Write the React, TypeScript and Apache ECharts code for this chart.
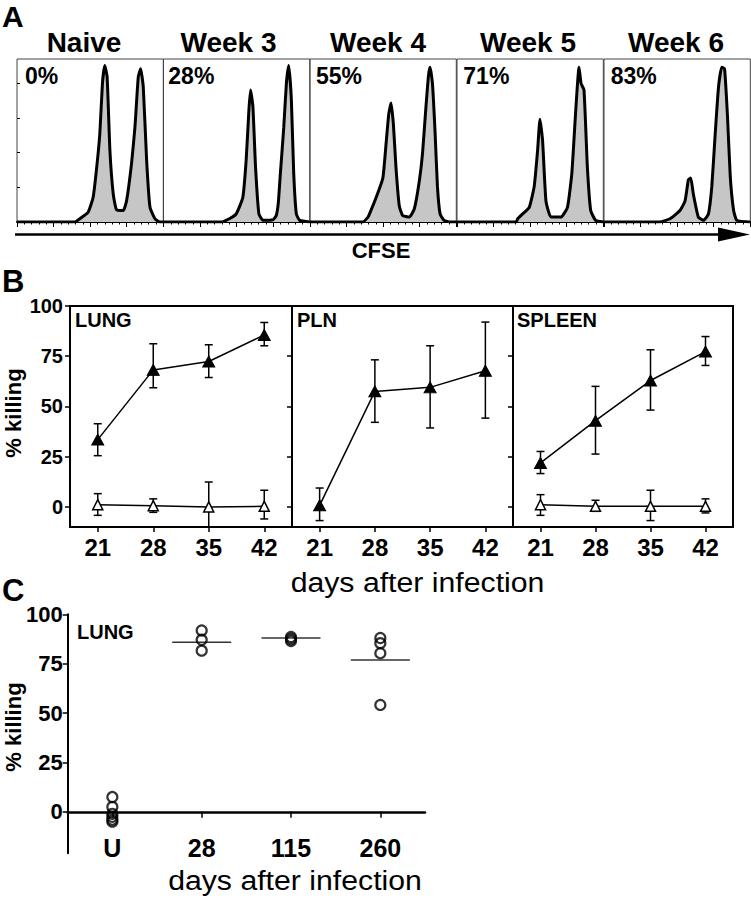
import React, { useEffect, useRef } from "react";
import * as echarts from "echarts";

const FONT = '"Liberation Sans", Arial, Helvetica, sans-serif';

// ---------- Panel A: CFSE histograms (x: CFSE position %, y: relative count %) ----------
const histTitles = ["Naive", "Week 3", "Week 4", "Week 5", "Week 6"];
const histPercents = ["0%", "28%", "55%", "71%", "83%"];
const naiveHist = [[0, 0], [39.5, 0], [42.9, 2], [48.6, 6], [52, 15], [54.3, 32], [56.6, 54], [58.4, 85], [60, 96], [61.6, 89], [63.5, 44], [65.8, 17], [68, 7.6], [72.6, 7], [74.9, 13], [78.3, 36], [80.6, 58], [82.9, 89], [84.5, 94], [86.3, 83], [88.6, 38], [90.9, 9], [94.3, 2], [97.7, 0], [100, 0]];
const week3Hist = [[0, 0], [39.4, 0], [45, 2], [49.7, 5], [54.2, 15], [56.5, 38], [58.4, 69], [59.5, 81], [61.1, 71], [62.9, 34], [65.2, 5], [68, 1], [75, 1.5], [77.1, 4], [78.5, 12], [79.9, 30], [82.2, 58], [84, 85], [85.6, 96], [87.4, 75], [89, 30], [90.8, 5], [93.1, 1], [100, 0]];
const week4Hist = [[0, 0], [36.2, 0], [39.6, 3], [40.7, 5], [45.2, 15], [49.8, 27], [52, 48], [53.8, 66], [55.4, 73], [57, 60], [58.8, 33], [61, 10], [63.3, 4], [67.9, 3], [71.3, 8], [74.7, 25], [76.9, 42], [79.2, 70], [81, 90], [82.1, 95], [83.7, 85], [85.5, 55], [87.1, 22], [88.9, 5], [91.6, 1], [96, 0], [100, 0]];
const week5Hist = [[0, 0], [40.4, 0], [41.5, 2], [44.9, 5], [49.4, 9], [52.8, 22], [55.1, 44], [56.7, 63], [58.5, 50], [60.8, 13], [64.2, 3], [71, 3], [75.5, 9], [78.5, 30], [81.2, 69], [83.4, 95], [84.8, 85], [86.8, 81], [89.1, 34], [91.4, 7], [94.8, 1], [100, 0]];
const week6Hist = [[0, 0], [38.2, 0], [45.1, 2], [51.9, 7], [55.4, 13], [57.7, 26], [59.3, 27], [61.1, 17], [64.5, 3], [68, 1], [71.4, 5], [73.7, 22], [76, 54], [78.3, 83], [80.5, 95], [82.4, 94], [84.4, 65], [86.3, 28], [88.6, 7], [90.8, 1], [100, 0]];
const histograms = [naiveHist, week3Hist, week4Hist, week5Hist, week6Hist];

// ---------- Panel B: % killing over time ----------
const days = [21, 28, 35, 42];
const bTicks = [0, 25, 50, 75, 100];
const bPanels = ["LUNG", "PLN", "SPLEEN"];
const lungImmune = [33.5, 68.2, 72.4, 85.6];
const lungImmuneHi = [41.4, 81.2, 80.7, 91.8];
const lungImmuneLo = [25.5, 59.3, 64.4, 80.2];
const lungNaive = [1.1, 0.6, 0, 0.3];
const lungNaiveHi = [6.6, 4, 12.4, 8.3];
const lungNaiveLo = [-4.2, -2.7, -12, -6];
const plnImmune = [0.8, 57.5, 59.5, 67.8];
const plnImmuneHi = [9.4, 73.2, 80.2, 92];
const plnImmuneLo = [-6.8, 42.1, 39.3, 44.2];
const spleenImmune = [21.9, 42.9, 62.9, 77.3];
const spleenImmuneHi = [27.6, 60, 78.2, 84.8];
const spleenImmuneLo = [16.6, 26.3, 48.2, 70.4];
const spleenNaive = [1.1, 0.3, 0.3, 0.3];
const spleenNaiveHi = [6.1, 3.3, 8.3, 4];
const spleenNaiveLo = [-4.2, -2.2, -6.8, -3];

// ---------- Panel C: long-term lung killing ----------
const cCategories = ["U", "28", "115", "260"];
const uValues = [7.5, 2.5, -1, -2.5, -4, -5];
const d28Values = [91.8, 87.1, 81.6];
const d115Values = [88.5, 87.5, 86.5];
const d260Values = [88, 85.4, 80.3, 54.1];
const cMeans = [85.9, 88, 76.9];

function txt(text: string, x: number, y: number, size: number, opts: any = {}) {
  return {
    type: "text",
    x,
    y,
    rotation: opts.rotation || 0,
    scaleX: opts.scaleX || 1,
    style: {
      text,
      fontSize: size,
      fontWeight: opts.weight || "bold",
      fontFamily: FONT,
      fill: "#000",
      align: opts.align || "left",
      verticalAlign: "middle",
    },
  };
}

function errorBars(idx: number, lo: number[], hi: number[]) {
  return {
    type: "custom",
    xAxisIndex: idx,
    yAxisIndex: idx,
    clip: true,
    z: 2,
    encode: { x: 0, y: [1, 2] },
    data: days.map((d, i) => [d, lo[i], hi[i]]),
    renderItem: (params: any, api: any) => {
      const x = api.value(0);
      const pHi = api.coord([x, api.value(2)]);
      const pLo = api.coord([x, api.value(1)]);
      const w = 4;
      const st = { stroke: "#000", lineWidth: 1.5 };
      return {
        type: "group",
        children: [
          { type: "line", shape: { x1: pHi[0], y1: pHi[1], x2: pLo[0], y2: pLo[1] }, style: st },
          { type: "line", shape: { x1: pHi[0] - w, y1: pHi[1], x2: pHi[0] + w, y2: pHi[1] }, style: st },
          { type: "line", shape: { x1: pLo[0] - w, y1: pLo[1], x2: pLo[0] + w, y2: pLo[1] }, style: st },
        ],
      };
    },
  };
}

function trendLine(idx: number, vals: number[], filled: boolean) {
  return {
    type: "line",
    xAxisIndex: idx,
    yAxisIndex: idx,
    z: 3,
    data: days.map((d, i) => [d, vals[i]]),
    symbol: "triangle",
    symbolSize: filled ? [12, 11] : [10, 10],
    lineStyle: { color: "#000", width: 1.5 },
    itemStyle: filled
      ? { color: "#000", borderColor: "#000", borderWidth: 1 }
      : { color: "#fff", borderColor: "#000", borderWidth: 1.5 },
  };
}

export default function App() {
  const ref = useRef<HTMLDivElement>(null);
  useEffect(() => {
    const chart = echarts.init(ref.current!, null, { renderer: "svg" });

    const aLefts = [17, 163.5, 310, 457, 604];
    const aWidth = 146.3;
    const bLefts = [70, 292, 513];
    const bWidths = [222, 221, 220];

    const grids: any[] = [];
    const xAxes: any[] = [];
    const yAxes: any[] = [];
    const series: any[] = [];

    // Panel A
    aLefts.forEach((l, i) => {
      grids.push({ left: l, top: 59, width: aWidth, height: 163, show: true, borderColor: "#444", borderWidth: 1 });
      xAxes.push({
        gridIndex: i, type: "value", min: 0, max: 100, interval: 25,
        axisLine: { show: true, onZero: false, lineStyle: { color: "#000", width: 2 } },
        axisTick: { show: true, length: 5, lineStyle: { color: "#000", width: 1 } },
        minorTick: { show: true, splitNumber: 5, length: 2.5, lineStyle: { color: "#000", width: 1 } },
        axisLabel: { show: false }, splitLine: { show: false },
      });
      yAxes.push({
        gridIndex: i, type: "value", min: 0, max: 100,
        axisLine: { show: false },
        axisTick: { show: i === 0, inside: true, length: 3, customValues: [0, 21.3, 42.6, 63.9, 85.2], lineStyle: { color: "#000" } },
        axisLabel: { show: false }, splitLine: { show: false },
      });
      series.push({
        type: "line", xAxisIndex: i, yAxisIndex: i, data: histograms[i], symbol: "none", smooth: 0.15,
        lineStyle: { color: "#000", width: 3 }, areaStyle: { color: "#c6c6c6", opacity: 1 },
      });
    });

    // Panel B
    bLefts.forEach((l, k) => {
      const gi = 5 + k;
      grids.push({ left: l, top: 306, width: bWidths[k], height: 221, show: true, borderColor: "#000", borderWidth: 2 });
      xAxes.push({
        gridIndex: gi, type: "value", min: 17.5, max: 45.5,
        axisLine: { show: true, onZero: false, lineStyle: { color: "#000", width: 2 } },
        axisTick: { show: true, customValues: days, length: 5, lineStyle: { color: "#000", width: 1.5 } },
        axisLabel: { customValues: days, fontSize: 24, fontWeight: "bold", fontFamily: FONT, color: "#000", margin: 8 },
        splitLine: { show: false },
      });
      yAxes.push({
        gridIndex: gi, type: "value", min: -10, max: 100,
        axisLine: { show: true, onZero: false, lineStyle: { color: "#000", width: 2 } },
        axisTick: { show: true, customValues: bTicks, length: 5, lineStyle: { color: "#000", width: 1.5 } },
        axisLabel: { show: k === 0, customValues: bTicks, fontSize: 20, fontWeight: "bold", fontFamily: FONT, color: "#000", margin: 7 },
        splitLine: { show: false },
      });
    });
    series.push(errorBars(5, lungImmuneLo, lungImmuneHi), trendLine(5, lungImmune, true));
    series.push(errorBars(5, lungNaiveLo, lungNaiveHi), trendLine(5, lungNaive, false));
    series.push(errorBars(6, plnImmuneLo, plnImmuneHi), trendLine(6, plnImmune, true));
    series.push(errorBars(7, spleenImmuneLo, spleenImmuneHi), trendLine(7, spleenImmune, true));
    series.push(errorBars(7, spleenNaiveLo, spleenNaiveHi), trendLine(7, spleenNaive, false));

    // Panel C
    grids.push({ left: 67.7, top: 614.3, width: 357.3, height: 239, show: false });
    xAxes.push({
      gridIndex: 8, type: "category", data: cCategories, boundaryGap: true,
      axisLine: { show: true, onZero: true, lineStyle: { color: "#000", width: 2.5 } },
      axisTick: { show: true, alignWithLabel: true, length: 6, lineStyle: { color: "#000", width: 1.5 } },
      axisLabel: { fontSize: 25, fontWeight: "bold", fontFamily: FONT, color: "#000", margin: -18 },
      splitLine: { show: false },
    });
    yAxes.push({
      gridIndex: 8, type: "value", min: -21, max: 100,
      axisLine: { show: true, onZero: false, lineStyle: { color: "#000", width: 2 } },
      axisTick: { show: true, customValues: bTicks, length: 5, lineStyle: { color: "#000", width: 1.5 } },
      axisLabel: { customValues: bTicks, fontSize: 22, fontWeight: "bold", fontFamily: FONT, color: "#000", margin: 5 },
      splitLine: { show: false },
    });
    const cPoints = [
      ...uValues.map((v) => [0, v]),
      ...d28Values.map((v) => [1, v]),
      ...d115Values.map((v) => [2, v]),
      ...d260Values.map((v) => [3, v]),
    ];
    series.push({
      type: "scatter", xAxisIndex: 8, yAxisIndex: 8, data: cMeans.map((v, i) => [i + 1, v]),
      symbol: "rect", symbolSize: [59, 1.5], itemStyle: { color: "#000" }, z: 2,
    });
    series.push({
      type: "scatter", xAxisIndex: 8, yAxisIndex: 8, data: cPoints, symbol: "circle", symbolSize: 10,
      itemStyle: { color: "rgba(0,0,0,0)", borderColor: "#000", borderWidth: 2.2 }, z: 3,
    });

    const titleX = [84, 228.5, 378, 528, 676];
    const pctX = [25, 168.3, 316, 463.3, 610.7];
    const graphic: any[] = [
      txt("A", 2, 16, 30),
      ...histTitles.map((t, i) => txt(t, titleX[i], 42, 28, { align: "center" })),
      ...histPercents.map((t, i) => txt(t, pctX[i], 76, 23)),
      { type: "line", shape: { x1: 15, y1: 234.5, x2: 722, y2: 234.5 }, style: { stroke: "#000", lineWidth: 2.5 } },
      { type: "polygon", shape: { points: [[718, 227.5], [750, 234.5], [718, 241.5]] }, style: { fill: "#000" } },
      txt("CFSE", 381, 250.5, 22, { align: "center" }),
      txt("B", 2, 281, 31),
      txt("LUNG", 75, 320, 20),
      txt("PLN", 297, 320, 20),
      txt("SPLEEN", 517, 320, 20),
      txt("% killing", 13, 413, 22, { align: "center", rotation: Math.PI / 2 }),
      txt("days after infection", 417.5, 583, 27, { align: "center", weight: "normal", scaleX: 1.12 }),
      txt("C", 2, 590, 31),
      txt("LUNG", 77, 632, 20),
      txt("% killing", 13, 727, 22, { align: "center", rotation: Math.PI / 2 }),
      txt("days after infection", 295, 881, 27, { align: "center", weight: "normal", scaleX: 1.12 }),
    ];

    chart.setOption({
      animation: false,
      backgroundColor: "#fff",
      grid: grids,
      xAxis: xAxes,
      yAxis: yAxes,
      series,
      graphic,
    });
    return () => chart.dispose();
  }, []);
  return <div ref={ref} style={{ position: "fixed", left: 0, top: 0, width: 751, height: 899 }} />;
}
